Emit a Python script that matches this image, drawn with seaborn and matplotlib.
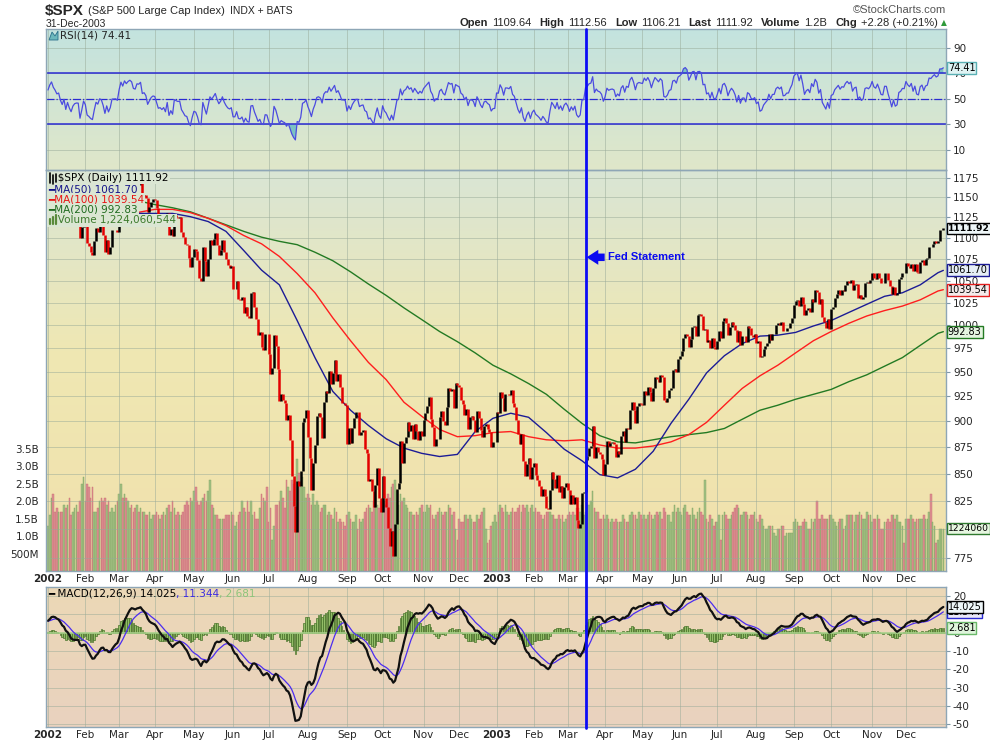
import numpy as np
import pandas as pd
import matplotlib
matplotlib.use("Agg")
import matplotlib.pyplot as plt
import matplotlib.colors as mcolors
from matplotlib import transforms
from matplotlib.lines import Line2D
from matplotlib.patches import Polygon
from matplotlib.ticker import NullLocator
import seaborn as sns

# ---------------- data ----------------
market_holidays = [
    "2002-01-01", "2002-01-21", "2002-02-18", "2002-03-29", "2002-05-27", "2002-07-04",
    "2002-09-02", "2002-11-28", "2002-12-25",
    "2003-01-01", "2003-01-20", "2003-02-17", "2003-04-18", "2003-05-26", "2003-07-04",
    "2003-09-01", "2003-11-27", "2003-12-25",
]

# Oct-Dec 2001 closes, only used to warm up RSI / MACD
warmup_closes = [
    1038.6, 1051.3, 1072.3, 1069.6, 1071.4, 1062.4, 1056.8, 1081.0, 1097.4, 1091.7, 1090.0, 1097.5,
    1077.1, 1068.6, 1073.5, 1089.9, 1084.8, 1085.2, 1100.1, 1104.6, 1078.3, 1059.8, 1059.8,
    1084.1, 1087.2, 1102.8, 1118.9, 1115.8, 1118.5, 1120.3, 1118.3, 1139.1, 1141.2, 1142.2, 1138.7,
    1151.1, 1142.7, 1137.0, 1150.3, 1157.4, 1149.5, 1128.5, 1140.2, 1139.5,
    1129.9, 1144.8, 1170.4, 1167.1, 1158.3, 1139.9, 1136.8, 1137.1, 1119.4, 1123.1, 1134.4, 1142.9,
    1149.6, 1139.9, 1144.9, 1144.7, 1149.4, 1157.1, 1161.0, 1148.1,
]

closes_2002 = [
    1154.7, 1165.3, 1172.5, 1164.9, 1160.7, 1155.1, 1156.6, 1145.6, 1138.4, 1146.2, 1127.6, 1138.9,
    1127.6, 1119.3, 1128.2, 1132.2, 1133.3, 1133.1, 1100.6, 1113.6, 1130.2,
    1122.2, 1094.4, 1090.0, 1083.5, 1080.2, 1096.2, 1111.9, 1107.5, 1118.5, 1116.5, 1104.2, 1083.3,
    1098.0, 1081.0, 1089.8, 1109.4, 1109.4, 1109.9, 1106.7,
    1131.8, 1153.8, 1146.1, 1162.8, 1157.5, 1164.3, 1168.3, 1165.6, 1154.1, 1153.0, 1166.2, 1165.6,
    1170.3, 1151.9, 1153.6, 1148.7, 1131.9, 1138.5, 1144.6, 1147.4,
    1146.5, 1136.8, 1125.4, 1126.3, 1122.7, 1125.3, 1117.8, 1130.5, 1103.7, 1111.0, 1102.6, 1128.4,
    1126.1, 1124.5, 1125.2, 1107.8, 1101.0, 1093.1, 1091.5, 1076.3, 1065.5, 1076.9,
    1086.5, 1084.6, 1073.4, 1052.7, 1049.5, 1088.9, 1073.0, 1055.0, 1074.6, 1097.3, 1091.1, 1098.2,
    1106.6, 1091.9, 1079.9, 1086.0, 1097.1, 1083.8, 1074.6, 1067.7, 1064.7, 1067.1,
    1040.7, 1040.7, 1049.9, 1029.2, 1027.5, 1030.7, 1013.6, 1020.3, 1009.6, 1007.3, 1036.2, 1037.1,
    1020.0, 1006.3, 989.1, 992.7, 976.1, 973.5, 990.6, 989.8,
    968.7, 948.1, 954.0, 989.0, 977.0, 952.8, 920.5, 927.4, 921.4, 917.9, 900.9, 906.0,
    881.6, 847.8, 819.9, 797.7, 843.4, 838.7, 852.8, 899.0, 902.8, 911.6,
    884.7, 864.2, 834.6, 859.6, 876.8, 905.5, 908.6, 903.8, 884.2, 919.6, 930.3, 928.8,
    950.7, 937.4, 949.4, 962.7, 940.9, 948.0, 934.8, 917.9, 917.8, 916.1,
    878.0, 893.4, 879.2, 893.9, 903.0, 909.6, 909.5, 886.9, 889.8, 891.1, 873.5, 869.5,
    843.3, 845.4, 833.7, 819.3, 839.7, 855.0, 827.4, 815.3,
    847.9, 827.9, 819.0, 800.6, 785.3, 798.6, 776.8, 803.9, 835.3, 841.4, 881.3, 860.0,
    879.2, 884.4, 899.7, 890.2, 896.1, 882.5, 897.7, 890.2, 882.2, 890.7, 885.8,
    901.0, 908.4, 915.4, 923.8, 902.7, 894.7, 876.2, 883.0, 882.5, 904.3, 909.8, 900.4,
    896.7, 914.2, 933.8, 930.6, 932.9, 913.3, 938.9, 936.3,
    934.5, 920.8, 917.6, 906.6, 912.2, 892.0, 904.5, 905.0, 901.6, 889.5, 910.4, 903.0,
    891.1, 884.3, 895.8, 897.4, 892.5, 889.7, 875.4, 879.4, 879.8,
]

closes_2003 = [
    909.0, 908.6, 929.0, 922.9, 909.9, 927.6, 927.6, 926.3, 931.7, 918.2, 914.6, 901.8,
    887.6, 878.4, 887.3, 861.4, 847.5, 858.5, 864.4, 844.6, 855.7,
    860.3, 848.2, 843.6, 838.2, 829.7, 836.0, 829.2, 818.7, 817.4, 834.9, 851.2, 845.1,
    837.1, 848.2, 832.6, 838.6, 827.6, 837.3, 841.2,
    834.8, 822.0, 829.9, 822.1, 828.9, 807.5, 800.7, 804.2, 831.9, 833.3, 862.8, 866.5,
    874.0, 875.7, 895.8, 864.2, 874.7, 870.0, 868.5, 863.5, 848.2,
    858.5, 880.9, 876.5, 878.9, 879.9, 878.3, 866.0, 871.6, 868.3, 885.2, 890.8, 879.9,
    893.6, 892.0, 911.4, 919.0, 911.4, 898.8, 914.8, 917.8, 916.9,
    916.3, 930.1, 926.6, 934.4, 929.6, 920.3, 933.4, 945.1, 942.3, 939.3, 946.7, 944.3,
    920.8, 919.7, 923.4, 931.9, 933.2, 951.5, 953.2, 949.6, 963.6,
    967.0, 971.6, 986.2, 990.1, 987.8, 975.9, 984.8, 997.5, 998.5, 988.6, 1010.7, 1011.7,
    1010.1, 994.7, 995.7, 981.6, 983.5, 975.3, 985.8, 976.2, 974.5,
    982.3, 993.8, 985.7, 1004.4, 1007.8, 1002.2, 988.7, 998.1, 1003.9, 1000.4, 994.1, 981.7,
    993.3, 978.8, 988.1, 988.6, 981.6, 998.7, 996.5, 989.3, 987.5, 990.3,
    980.2, 982.8, 965.5, 967.1, 974.1, 977.6, 980.6, 990.4, 984.0, 990.5, 990.7, 999.7,
    1002.4, 1000.3, 1003.3, 993.1, 993.7, 996.7, 996.8, 1002.8, 1008.0,
    1022.0, 1026.3, 1028.0, 1021.4, 1031.6, 1023.2, 1010.9, 1016.4, 1018.6, 1014.8, 1029.3, 1026.0,
    1039.6, 1036.3, 1022.8, 1029.0, 1009.4, 1003.3, 996.9, 1006.6, 996.0,
    1018.2, 1020.2, 1029.9, 1034.4, 1039.3, 1033.8, 1038.7, 1038.1, 1045.4, 1049.5, 1046.8, 1050.1,
    1039.3, 1044.7, 1046.0, 1030.4, 1033.8, 1028.9, 1031.1, 1046.8, 1048.1, 1046.9, 1050.7,
    1059.0, 1053.3, 1051.8, 1058.1, 1053.2, 1047.1, 1046.6, 1058.5, 1058.4, 1050.4, 1043.6, 1034.2,
    1042.4, 1033.7, 1035.3, 1052.1, 1053.9, 1058.5, 1058.2,
    1070.1, 1066.6, 1064.7, 1069.7, 1061.5, 1069.3, 1060.2, 1059.1, 1071.2, 1074.1, 1068.0, 1075.1,
    1076.5, 1089.2, 1088.7, 1092.9, 1096.0, 1094.0, 1095.9, 1109.5, 1109.6, 1111.9,
]

# daily volume in units of 100M shares
volume_2002 = [
    13, 16, 21, 22, 17, 18, 17, 17, 17, 19, 18, 19, 21, 16, 17, 18, 19, 17, 20, 25, 27,
    20, 25, 24, 21, 24, 17, 17, 18, 20, 21, 20, 21, 19, 20, 17, 18, 17, 19, 20,
    22, 25, 21, 22, 21, 20, 18, 19, 17, 18, 19, 17, 18, 17, 17, 16, 16, 17, 15, 16,
    16, 17, 16, 15, 16, 17, 16, 18, 19, 17, 20, 18, 16, 17, 16, 16, 17, 19, 20, 19, 21, 20,
    23, 24, 20, 19, 20, 21, 22, 20, 23, 26, 19, 18, 16, 16, 15, 15, 15, 15, 16, 16, 16, 17,
    16, 13, 14, 16, 17, 20, 18, 17, 20, 17, 20, 16, 17, 15, 15, 18, 22, 21, 20, 24,
    14, 18, 9, 13, 19, 19, 20, 23, 21, 18, 26, 24, 23, 26, 25, 27, 32, 28, 24, 27, 24, 21,
    22, 21, 19, 22, 19, 20, 19, 17, 18, 19, 19, 16, 17, 16, 15, 18, 17, 14, 15, 14, 14, 13,
    16, 17, 15, 14, 14, 16, 12, 15, 14, 15, 17, 18, 19, 18, 17, 20, 21, 19, 18, 20,
    21, 20, 19, 22, 21, 24, 25, 26, 23, 19, 22, 20, 21, 19, 18, 17, 17, 16, 16, 17, 16, 18, 19,
    17, 17, 19, 18, 19, 16, 15, 16, 17, 18, 17, 16, 17, 17, 19, 18, 16, 17, 12, 9,
    15, 14, 14, 16, 16, 15, 16, 15, 14, 14, 16, 15, 16, 17, 18, 12, 8, 9, 13, 14, 16,
]
volume_2003 = [
    14, 17, 19, 18, 17, 19, 17, 16, 17, 18, 17, 17, 18, 19, 17, 19, 18, 19, 17, 18, 19,
    17, 18, 17, 17, 16, 15, 16, 17, 17, 17, 16, 16, 15, 15, 16, 15, 16, 14, 15,
    16, 17, 16, 17, 16, 18, 18, 17, 19, 16, 17, 19, 19, 20, 23, 18, 17, 17, 15, 15, 16,
    15, 16, 15, 14, 15, 14, 15, 14, 14, 14, 16, 15, 14, 14, 16, 17, 16, 16, 15, 17, 16,
    15, 16, 15, 16, 17, 16, 15, 16, 17, 16, 17, 15, 18, 17, 16, 16, 14, 17, 19, 17, 18,
    17, 16, 18, 19, 17, 16, 16, 18, 16, 15, 17, 18, 17, 16, 26, 15, 14, 16, 15, 13, 14,
    14, 16, 9, 16, 17, 16, 15, 15, 16, 17, 18, 19, 18, 16, 16, 17, 17, 16, 15, 16, 16, 17,
    15, 14, 16, 15, 13, 12, 12, 13, 13, 13, 11, 10, 12, 12, 13, 13, 10, 11, 11, 11, 11,
    14, 15, 14, 13, 13, 14, 15, 14, 12, 12, 15, 14, 15, 20, 15, 15, 16, 15, 15, 15, 16,
    16, 15, 14, 13, 14, 15, 15, 12, 13, 16, 16, 16, 16, 14, 16, 16, 17, 16, 15, 15, 17, 16, 16,
    14, 15, 15, 16, 15, 12, 12, 14, 14, 15, 14, 16, 16, 15, 16, 14, 14, 13, 8,
    15, 15, 15, 16, 15, 14, 15, 15, 15, 15, 16, 15, 15, 17, 22, 14, 13, 8, 9, 12, 12, 12,
]

# moving averages every 10 trading days (plus the last day)
ma50 = [None, None, None, None, None,
        1130, 1130, 1130, 1126, 1120, 1108, 1085, 1062, 1045, 1005, 965, 930, 911, 896, 883, 874,
        869, 866, 868, 890, 903, 908, 904, 889, 873, 862, 849, 846, 854, 871, 898, 922, 949, 967,
        980, 988, 989, 992, 999, 1005, 1014, 1023, 1032, 1036, 1045, 1059, 1061.7]
ma100 = [1122, 1121, 1120, 1122, 1126, 1131, 1135, 1135, 1131, 1124, 1115, 1103, 1093, 1078, 1058,
         1036, 1008, 983, 960, 942, 919, 905, 892, 885, 886, 889, 890, 885, 882, 881, 882, 877, 874,
         874, 876, 880, 887, 899, 916, 933, 946, 957, 970, 983, 993, 1002, 1010, 1016, 1021, 1028,
         1038, 1039.5]
ma200 = [None, None, None, None,
         1149, 1146, 1141, 1137, 1132, 1124, 1116, 1108, 1101, 1096, 1092, 1083, 1073, 1060, 1046,
         1033, 1019, 1006, 993, 982, 970, 957, 948, 938, 927, 912, 898, 886, 880, 879, 882, 885,
         887, 889, 893, 902, 911, 916, 922, 927, 932, 940, 947, 956, 965, 978, 991, 992.8]

price_ticks = [775, 800, 825, 850, 875, 900, 925, 950, 975, 1000, 1025, 1050, 1075, 1100, 1125, 1150, 1175]
rsi_ticks = [10, 30, 50, 70, 90]
macd_ticks = [20, 10, 0, -10, -20, -30, -40, -50]
vol_ticks = [0.5e9, 1.0e9, 1.5e9, 2.0e9, 2.5e9, 3.0e9, 3.5e9]
vol_labels = ["500M", "1.0B", "1.5B", "2.0B", "2.5B", "3.0B", "3.5B"]
fed_date = "2003-03-17"

# ---------------- derived series ----------------
closes = closes_2002 + closes_2003
days = pd.bdate_range("2002-01-01", "2003-12-31", freq="C", holidays=market_holidays)

full = pd.Series(warmup_closes + closes, dtype=float)
delta = full.diff()
gain = delta.clip(lower=0).ewm(alpha=1 / 14, adjust=False).mean()
loss = (-delta.clip(upper=0)).ewm(alpha=1 / 14, adjust=False).mean()
rsi_full = 100 - 100 / (1 + gain / loss)
macd_full = full.ewm(span=12, adjust=False).mean() - full.ewm(span=26, adjust=False).mean()
signal_full = macd_full.ewm(span=9, adjust=False).mean()
n0 = len(warmup_closes)

df = pd.DataFrame({
    "date": days,
    "close": closes,
    "prev": full.shift(1).iloc[n0:].to_numpy(),
    "volume": np.array(volume_2002 + volume_2003) * 1e8,
    "rsi": rsi_full.iloc[n0:].to_numpy(),
    "macd": macd_full.iloc[n0:].to_numpy(),
    "signal": signal_full.iloc[n0:].to_numpy(),
})
df["idx"] = np.arange(len(df))
df["hist"] = df["macd"] - df["signal"]
df["up"] = df["close"] >= df["prev"]

ma = pd.DataFrame({"idx": np.r_[np.arange(0, 501, 10), 503],
                   "ma50": ma50, "ma100": ma100, "ma200": ma200}, dtype=float)

month_first = df.groupby(df["date"].dt.to_period("M"))["idx"].min()
month_labels = [str(p.year) if p.month == 1 else p.strftime("%b") for p in month_first.index]
fed_idx = int(df.loc[df["date"] == fed_date, "idx"].iloc[0])

# ---------------- figure ----------------
sns.set_theme(style="white")
plt.rcParams["font.family"] = ["DejaVu Sans"]
ARIAL = ["Liberation Sans", "DejaVu Sans"]

W, H = 990, 744
fig = plt.figure(figsize=(W / 100, H / 100), dpi=100)
fig.patch.set_facecolor("white")


def fx(px):
    return px / W


def fy(py):
    return 1 - py / H


def rect(top, bottom, left=46, right=946):
    return [fx(left), fy(bottom), (right - left) / W, (bottom - top) / H]


def gradient(r, stops):
    bg = fig.add_axes(r, zorder=0)
    pos = np.linspace(0, 1, 256)
    cols = np.array([mcolors.to_rgb(c) for _, c in stops])
    locs = [p for p, _ in stops]
    img = np.stack([np.interp(pos, locs, cols[:, k]) for k in range(3)], axis=-1)[:, None, :]
    bg.imshow(img, aspect="auto", extent=[0, 1, 0, 1], origin="upper")
    bg.set_axis_off()


def style_panel(ax, ticks, labels):
    ax.set_xlim(-1.1, 504.5)
    ax.patch.set_visible(False)
    ax.set_yticks(ticks)
    ax.set_yticklabels(labels)
    ax.yaxis.set_minor_locator(NullLocator())
    ax.yaxis.tick_right()
    ax.tick_params(axis="y", labelsize=7.5, length=3, width=0.8, color="#7f98a8", pad=2)
    ax.set_xticks(month_first.to_numpy())
    ax.tick_params(axis="x", length=0, labelsize=7.5, pad=2.5)
    ax.grid(True, color="#98aa98", alpha=0.5, lw=0.7)
    for s in ax.spines.values():
        s.set_color("#8ea6b6")
        s.set_linewidth(1)
    ax.set_xlabel("")
    ax.set_ylabel("")


def bold_years(ax):
    ax.set_xticklabels(month_labels)
    for lbl, txt in zip(ax.get_xticklabels(), month_labels):
        if txt.isdigit():
            lbl.set_fontweight("bold")


def tag(ax, y, text, ec, fc="#eef6f6", weight="normal", yax=None, size=7.0):
    tr = transforms.blended_transform_factory(ax.transAxes, (yax or ax).transData)
    ax.text(1.002, y, text, transform=tr, ha="left", va="center", fontsize=size,
            fontweight=weight, color="black", clip_on=False, zorder=20,
            bbox=dict(boxstyle="square,pad=0.1", fc=fc, ec=ec, lw=1))


gradient(rect(29, 170), [(0, "#c3e3df"), (1, "#e0e7c9")])
gradient(rect(170, 571), [(0, "#d9e5d5"), (0.45, "#efe8b3"), (1, "#f1e0ac")])
gradient(rect(587, 727), [(0, "#ecd8b6"), (1, "#e9d2bf")])

# --- RSI panel
ax_rsi = fig.add_axes(rect(29, 170), zorder=2)
ax_rsi.fill_between(df["idx"], df["rsi"], 70, where=df["rsi"] > 70, interpolate=True,
                    color="#7cc3c3", lw=0)
ax_rsi.fill_between(df["idx"], df["rsi"], 30, where=df["rsi"] < 30, interpolate=True,
                    color="#7cc3c3", lw=0)
for lvl in (30, 70):
    ax_rsi.axhline(lvl, color="#2a2ad2", lw=1.1)
ax_rsi.axhline(50, color="#2a2ad2", lw=0.9, ls="-.")
sns.lineplot(data=df, x="idx", y="rsi", ax=ax_rsi, color="#4b4be0", lw=0.9, errorbar=None)
ax_rsi.set_ylim(-6, 105)
style_panel(ax_rsi, rsi_ticks, [str(t) for t in rsi_ticks])
ax_rsi.set_xticklabels([])
tag(ax_rsi, 74.41, "74.41", "#5ab0b4", fc="#dff3f3")

# --- price + volume panel
ax_vol = fig.add_axes(rect(170, 571), zorder=1)
ax_vol.bar(df["idx"], df["volume"], width=0.9,
           color=np.where(df["up"], "#a3c184", "#dd8f92"),
           edgecolor=np.where(df["up"], "#7fa362", "#c86e72"), lw=0.3)
ax_vol.set_xlim(-1.1, 504.5)
ax_vol.set_ylim(0, 11.5e9)
ax_vol.patch.set_visible(False)
ax_vol.set_xticks([])
ax_vol.set_yticks(vol_ticks)
ax_vol.set_yticklabels(vol_labels)
ax_vol.tick_params(axis="y", labelsize=7.5, length=3, width=0.8, color="#7f98a8", pad=2)
for s in ax_vol.spines.values():
    s.set_visible(False)

ax_px = fig.add_axes(rect(170, 571), zorder=2)
ax_px.set_yscale("log")
sns.lineplot(data=ma, x="idx", y="ma200", ax=ax_px, color="#237a23", lw=1.0, errorbar=None)
sns.lineplot(data=ma, x="idx", y="ma100", ax=ax_px, color="#ff1e1e", lw=1.0, errorbar=None)
sns.lineplot(data=ma, x="idx", y="ma50", ax=ax_px, color="#1c1c96", lw=1.0, errorbar=None)
lo = np.minimum(df["prev"], df["close"])
hi = np.maximum(df["prev"], df["close"])
ax_px.vlines(df["idx"], lo, hi, colors=np.where(df["up"], "black", "#e30000"), lw=1.8)
ax_px.set_ylim(764, 1185)
style_panel(ax_px, price_ticks, [str(t) for t in price_ticks])
bold_years(ax_px)
tag(ax_px, 992.83, "992.83", "#237a23", fc="#e4f4e0")
tag(ax_px, 1039.54, "1039.54", "#e31e1e", fc="#f4eaea")
tag(ax_px, 1061.70, "1061.70", "#1c1c96", fc="#e6eef6")
tag(ax_px, 1111.92, "1111.92", "black", fc="#eef6f8", weight="bold", size=6.6)
tag(ax_px, 1224060544, "1224060", "#2f7a2f", fc="#e6f6e0", yax=ax_vol, size=6.6)

# Fed statement marker
ax_px.annotate("", xy=(fed_idx + 0.6, 1077), xytext=(13, 0), textcoords="offset points",
               arrowprops=dict(arrowstyle="simple,head_length=0.7,head_width=0.9,tail_width=0.45",
                               color="#0a0af0", lw=0, shrinkA=0, shrinkB=0))
ax_px.annotate("Fed Statement", xy=(fed_idx, 1077), xytext=(16, 0.5), textcoords="offset points",
               va="center", ha="left", fontsize=8, fontweight="bold", color="#0a0af0",
               family=ARIAL)

# --- MACD panel
ax_macd = fig.add_axes(rect(587, 727), zorder=2)
ax_macd.axhline(0, color="#a8d08a", lw=1.2)
ax_macd.bar(df["idx"], df["hist"], width=0.9, color="#93bd68", edgecolor="#3f6b22", lw=0.45)
sns.lineplot(data=df, x="idx", y="signal", ax=ax_macd, color="#4b2cf0", lw=0.9, errorbar=None)
sns.lineplot(data=df, x="idx", y="macd", ax=ax_macd, color="#111111", lw=1.6, errorbar=None)
ax_macd.set_ylim(-51.4, 24.9)
style_panel(ax_macd, macd_ticks, [str(t) for t in macd_ticks])
bold_years(ax_macd)
tag(ax_macd, 11.344, "11.344", "#2a2ad2", fc="#e8e8f8")
tag(ax_macd, 14.025, "14.025", "black", fc="#eef6f8")
tag(ax_macd, 2.681, "2.681", "#6ab86a", fc="#dff5dc")

fed_line = Line2D([fed_idx, fed_idx], [fy(29), fy(728)], color="#0c0cf5", lw=2.0,
                  transform=transforms.blended_transform_factory(ax_px.transData, fig.transFigure),
                  zorder=5)
fig.add_artist(fed_line)

# ---------------- text ----------------
renderer = fig.canvas.get_renderer()


def chain(x_px, y_px, parts, size, family=None):
    x = x_px
    for s, kw, gap in parts:
        opts = {"fontsize": size, "family": family or ["DejaVu Sans"], **kw}
        t = fig.text(fx(x), fy(y_px), s, va="center", ha="left", **opts)
        x += t.get_window_extent(renderer).width + gap
    return x


def chain_right(x_end, y_px, parts, size, family=None):
    texts = []
    total = 0
    for s, kw, gap in parts:
        opts = {"fontsize": size, "family": family or ["DejaVu Sans"], **kw}
        t = fig.text(0, fy(y_px), s, va="center", ha="left", **opts)
        w = t.get_window_extent(renderer).width
        texts.append((t, w, gap))
        total += w + gap
    x = x_end - total
    for t, w, gap in texts:
        t.set_x(fx(x))
        x += w + gap


B = {"fontweight": "bold"}
chain(45, 11, [("$SPX", {"fontweight": "bold", "fontsize": 11}, 4),
               ("(S&P 500 Large Cap Index)", {"fontsize": 8}, 5),
               ("INDX + BATS", {"fontsize": 7.5}, 0)], 8, family=ARIAL)
fig.text(fx(46), fy(24), "31-Dec-2003", fontsize=7.5, va="center", family=ARIAL)
fig.text(fx(946), fy(10), "\u00a9StockCharts.com", fontsize=8, va="center", ha="right",
         color="#555555", family=ARIAL)
chain_right(938, 23, [("Open", B, 4), ("1109.64", {}, 8), ("High", B, 4), ("1112.56", {}, 8),
                      ("Low", B, 4), ("1106.21", {}, 8), ("Last", B, 4), ("1111.92", {}, 8),
                      ("Volume", B, 4), ("1.2B", {}, 8), ("Chg", B, 4), ("+2.28 (+0.21%)", {}, 0)],
            8, family=ARIAL)
fig.text(fx(944), fy(23), "\u25b2", fontsize=5.5, color="#2e9a3a", ha="center", va="center")

# RSI legend
fig.add_artist(Polygon([(fx(49), fy(40)), (fx(52), fy(32)), (fx(55), fy(36)), (fx(58), fy(31)),
                        (fx(58), fy(40))], closed=True, fc="#6cb8bc", ec="#2a6f8a", lw=0.6,
                       transform=fig.transFigure))
fig.text(fx(60), fy(35), "RSI(14) 74.41", fontsize=7.5, va="center")

# price legend
leg_bg = "#dbe6d3"
rows = [("   $SPX (Daily) 1111.92", "black", 178),
        ("\u2501MA(50) 1061.70", "#15158a", 189),
        ("\u2501MA(100) 1039.54", "#e81414", 199.5),
        ("\u2501MA(200) 992.83", "#1e6a1e", 210),
        ("   Volume 1,224,060,544", "#3c7a2c", 220.5)]
for s, c, y in rows:
    fig.text(fx(48), fy(y), s, fontsize=7.5, color=c, va="center", ha="left", zorder=6,
             bbox=dict(boxstyle="square,pad=0.12", fc=leg_bg, ec="none"))
for xx, y0, y1, c in [(50, 173, 183, "black"), (53, 175, 184, "black"), (56, 174, 182, "black")]:
    fig.add_artist(Line2D([fx(xx), fx(xx)], [fy(y0), fy(y1)], color=c, lw=1.2, zorder=7,
                          transform=fig.transFigure))
for xx, y0 in [(50, 219), (53, 217), (56, 215)]:
    fig.add_artist(Line2D([fx(xx), fx(xx)], [fy(y0), fy(224)], color="#5a8a3a", lw=1.6, zorder=7,
                          transform=fig.transFigure))

# MACD legend
chain(48, 594, [("\u2501 MACD(12,26,9) 14.025", {"color": "black"}, 0),
                (", 11.344", {"color": "#3a2ae0"}, 0),
                (", 2.681", {"color": "#8cc47a"}, 0)], 7.5)

fig.savefig("out.png", dpi=100, facecolor="white")
